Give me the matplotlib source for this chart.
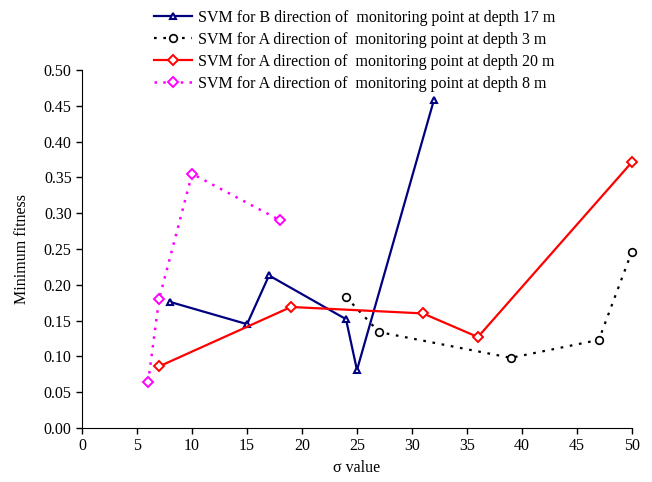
import matplotlib.pyplot as plt
from matplotlib.legend_handler import HandlerLine2D
from matplotlib.ticker import FormatStrFormatter

plt.rcParams['font.family'] = ['Liberation Serif', 'DejaVu Serif']

# sigma values / minimum fitness
b17_x = [8, 15, 17, 24, 25, 32]
b17_y = [0.176, 0.145, 0.213, 0.152, 0.081, 0.458]

a3_x = [24, 27, 39, 47, 50]
a3_y = [0.183, 0.134, 0.098, 0.123, 0.246]

a20_x = [7, 19, 31, 36, 50]
a20_y = [0.086, 0.169, 0.160, 0.127, 0.371]

a8_x = [6, 7, 10, 18]
a8_y = [0.064, 0.180, 0.355, 0.290]

labels = [
    "SVM for B direction of  monitoring point at depth 17 m",
    "SVM for A direction of  monitoring point at depth 3 m",
    "SVM for A direction of  monitoring point at depth 20 m",
    "SVM for A direction of  monitoring point at depth 8 m",
]


class MarkerLeftHandler(HandlerLine2D):
    # excel style legend: marker sits at the left end of the line
    def get_xdata(self, legend, xdescent, ydescent, width, height, fontsize):
        xdata = [-xdescent, -xdescent + width]
        return xdata, [-xdescent + 3]


fig = plt.figure(figsize=(6.52, 4.82), dpi=100)
ax = fig.add_axes([0.126, 0.112, 0.843, 0.743])

ax.plot(b17_x, b17_y, color='#000080', lw=1.6, marker='^', ms=5,
        mfc='white', mec='#000080', mew=1.5, label=labels[0], clip_on=False)
ax.plot(a3_x, a3_y, color='black', lw=1.6, ls=(0, (1.2, 3)), marker='o', ms=5.5,
        mfc='white', mec='black', mew=1.2, label=labels[1], clip_on=False)
ax.plot(a20_x, a20_y, color='#FF0000', lw=1.6, marker='D', ms=5.5,
        mfc='white', mec='#FF0000', mew=1.4, label=labels[2], clip_on=False)
ax.plot(a8_x, a8_y, color='#FF00FF', lw=1.8, ls=(0, (1, 2.5)), marker='D', ms=5.5,
        mfc='white', mec='#FF00FF', mew=1.4, label=labels[3], clip_on=False)

ax.set_xlim(0, 50)
ax.set_ylim(0, 0.5)
ax.set_xticks(range(0, 51, 5))
ax.set_yticks([i * 0.05 for i in range(11)])
ax.yaxis.set_major_formatter(FormatStrFormatter('%.2f'))
ax.tick_params(labelsize=11.5, direction='out', length=4, width=1)
ax.spines['top'].set_visible(False)
ax.spines['right'].set_visible(False)
ax.set_xlabel('σ value', fontsize=11.5, labelpad=4)
ax.set_ylabel('Minimum fitness', fontsize=11.5, labelpad=10)

handles, labs = ax.get_legend_handles_labels()
fig.legend(handles, labs, loc='upper left', bbox_to_anchor=(0.214, 1.01),
           frameon=False, fontsize=11.5, handlelength=2.4, handletextpad=0.35,
           labelspacing=0.38, numpoints=1,
           handler_map={plt.Line2D: MarkerLeftHandler()})

fig.savefig('out.png', dpi=100)
